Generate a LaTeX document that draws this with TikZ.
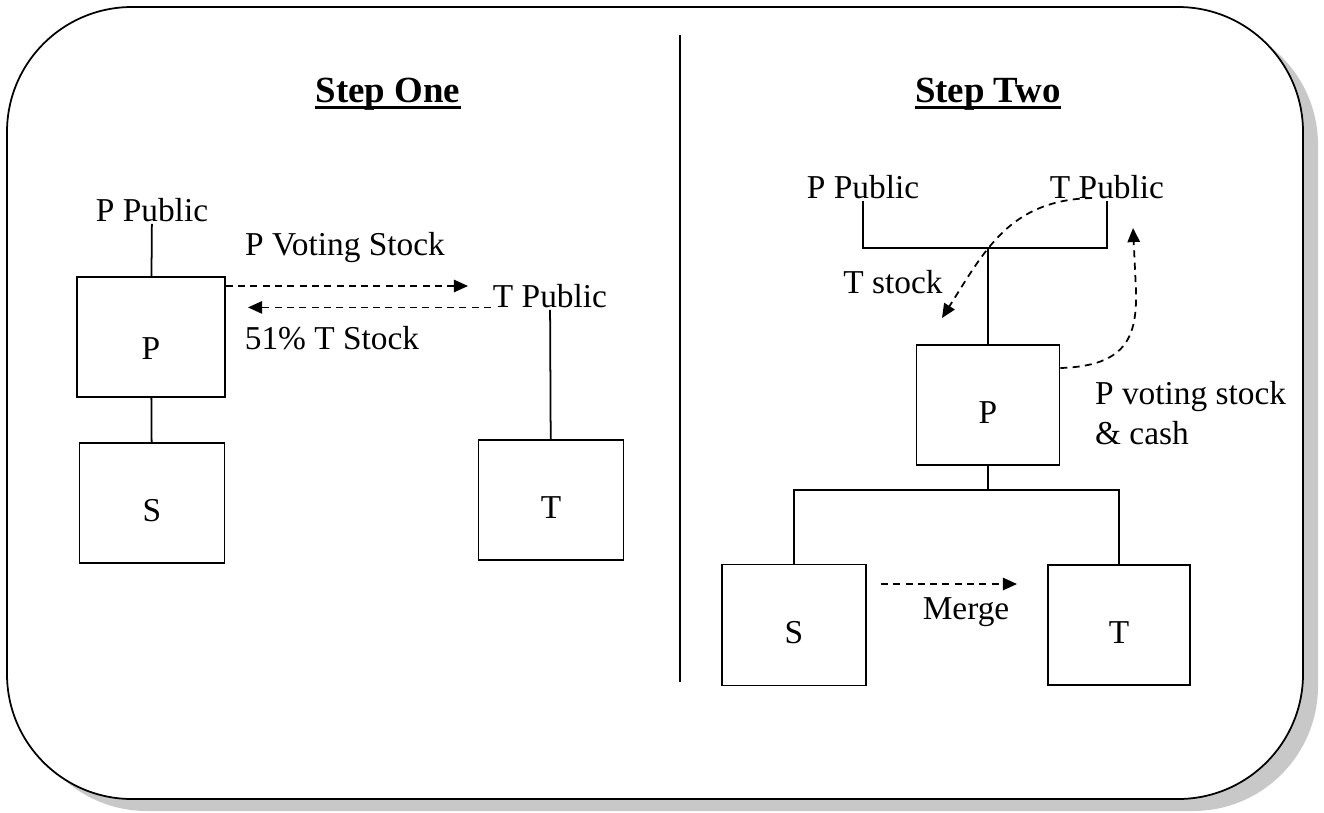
\documentclass[tikz,border=0pt]{standalone}
\usepackage{fontspec}
\setmainfont{Liberation Serif}
\usepackage{tikz}
\usetikzlibrary{arrows.meta,positioning}
\usepackage{xcolor}
\definecolor{shadowgray}{RGB}{200,200,200}
\tikzstyle{link} = [line width=1pt]
\tikzstyle{flow} = [line width=1pt,dash pattern=on 4pt off 3pt,-{Triangle[length=8pt,width=7pt]}]
\tikzstyle{company} = [rectangle, draw, line width=1pt, minimum width=2.9cm, minimum height=2.4cm, inner sep=0pt, text height=0.72cm, text depth=0pt, font=\fontsize{19}{23}\selectfont]
\tikzstyle{party} = [inner sep=1pt, font=\fontsize{19}{23}\selectfont]
\tikzstyle{heading} = [inner sep=0pt, anchor=base, font=\fontsize{21}{25}\selectfont\bfseries]
\tikzstyle{underbar} = [line width=1.7pt]

\begin{document}
\begin{tikzpicture}[x=0.02cm, y=-0.02cm]
\useasboundingbox (0,0) rectangle (1324,812);
% Frame with shadow
\fill[shadowgray, rounded corners=2.5cm] (22,20) rectangle (1318,811);
\draw[link, fill=white, rounded corners=2.5cm] (7,7) rectangle (1303,799);
\coordinate (divtop) at (680,35);
\coordinate (divbot) at (680,682);
\draw[link] (divtop) -- (divbot);

% Step one
\node (stepone) [heading] at (388,102) {Step One};
\draw[underbar] ([yshift=-3.2pt]stepone.base west) -- ([yshift=-3.2pt]stepone.base east);
\node (ppubA) [party] at (152,210) {P Public};
\node (pA) [company, minimum width=2.96cm, minimum height=2.4cm, text height=0.9cm] at (151,337) {P};
\node (sA) [company, minimum width=2.9cm, minimum height=2.4cm] at (152,503) {S};
\node (tpubA) [party] at (550,296) {T Public};
\node (tA) [company, minimum width=2.9cm, minimum height=2.4cm] at (551,500) {T};
\node (votingA) [party] at (345,248) {P Voting Stock};
\node (stockA) [party] at (332,338) {51\% T Stock};
\coordinate (votetip) at (468,286);
\coordinate (stocktip) at (248,302);

\draw[link] (ppubA) -- (pA);
\draw[link] (pA) -- (sA);
\draw[link] (tpubA) -- (tA);
\draw[flow] (pA.east |- votetip) -- (votetip);
\draw[flow] (tpubA.base west) -- (stocktip |- tpubA.base west);

% Step two
\node (steptwo) [heading] at (988,102) {Step Two};
\draw[underbar] ([yshift=-3.2pt]steptwo.base west) -- ([yshift=-3.2pt]steptwo.base east);
\node (ppubB) [party] at (863,187) {P Public};
\node (tpubB) [party] at (1107,187) {T Public};
\node (pB) [company, minimum width=2.86cm, minimum height=2.4cm] at (988,405) {P};
\node (sB) [company, minimum width=2.88cm, minimum height=2.42cm] at (794,625) {S};
\node (tB) [company, minimum width=2.84cm, minimum height=2.4cm] at (1119,625) {T};
\node (tstock) [party] at (893,282) {T stock};
\node (pvoting) [party, align=left, anchor=west] at (1093,413) {P voting stock\\\& cash};
\node (merge) [party] at (966,612) {Merge};
\coordinate (topjoint) at (988,248);
\coordinate (botjoint) at (988,490);
\coordinate (tstart) at (1092,198);
\coordinate (tstocktip) at (942,318);
\coordinate (pvotetip) at (1133,228);
\coordinate (mergetip) at (1017,584);

\draw[link] (ppubB) |- (topjoint) -| (tpubB);
\draw[link] (topjoint) -- (pB);
\draw[link] (pB) -- (botjoint);
\draw[link] (sB) |- (botjoint) -| (tB);
\draw[flow] (tstart) .. controls (1010,200) and (985,250) .. (tstocktip);
\draw[flow] (pB.east |- 0,368) .. controls (1128,366) and (1137,335) .. (1136,290) -- (pvotetip);
\draw[flow, shorten <=8pt] (sB.east |- mergetip) -- (mergetip);
\end{tikzpicture}
\end{document}
